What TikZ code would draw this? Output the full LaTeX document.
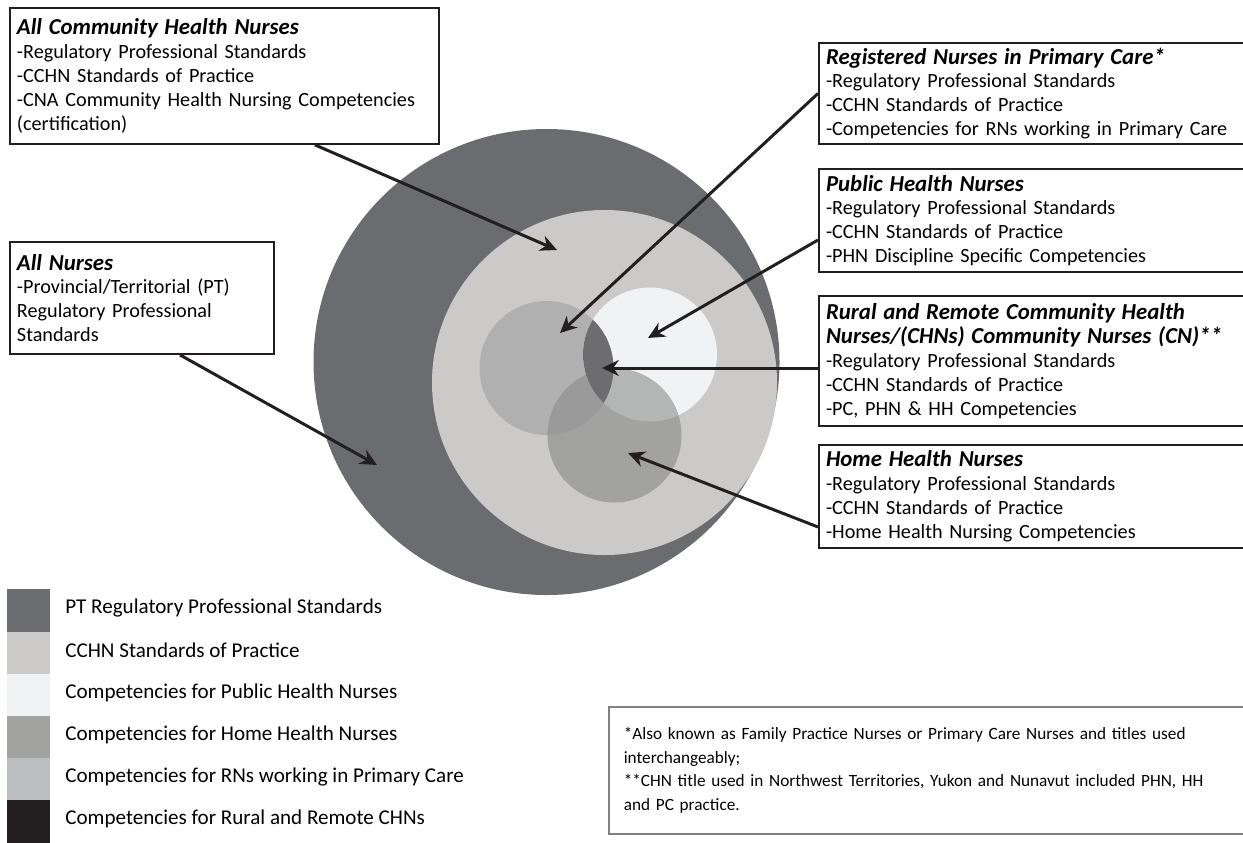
\documentclass[tikz,border=0pt]{standalone}
\usepackage{fontspec}
\setmainfont{Carlito}
\usetikzlibrary{positioning}
\usetikzlibrary{arrows.meta}

\definecolor{inkblack}{HTML}{231F20}
\definecolor{ptgray}{HTML}{6B6C70}
\definecolor{cchngray}{HTML}{CBCAC8}
\definecolor{phnwhite}{HTML}{F1F2F3}
\definecolor{hhgray}{HTML}{A2A2A0}
\definecolor{rngray}{HTML}{B0B0B0}
\definecolor{rnhhgray}{HTML}{9A9A9A}
\definecolor{phnhhgray}{HTML}{B4B6B6}
\definecolor{rnphngray}{HTML}{6D6D6F}
\definecolor{keyrn}{HTML}{BCBDC0}
\definecolor{notegray}{HTML}{808080}

\tikzset{
infobox/.style={draw=inkblack, line width=1.1pt, fill=white, anchor=north west,
	align=left, text width=#1, inner xsep=4pt, inner ysep=2.5pt,
	font=\fontsize{11.5}{13.6}\selectfont},
pointer/.style={draw=inkblack, line width=1.7pt, -{Stealth[length=9.5pt,width=9pt]}},
swatch/.style={fill=#1, anchor=north west, minimum width=0.86cm,
	minimum height=0.845cm, inner sep=0pt},
keytext/.style={anchor=west, inner sep=0pt, font=\fontsize{12}{14}\selectfont},
notebox/.style={draw=notegray, line width=0.9pt, anchor=north west, align=left,
	minimum width=12.9cm, minimum height=2.54cm, text width=12.3cm,
	font=\fontsize{9.8}{13.3}\selectfont},
}
\newcommand{\boxtitle}[1]{{\fontsize{13}{13.6}\selectfont\bfseries\itshape #1}}

\begin{document}
\begin{tikzpicture}[x=0.02cm, y=-0.02cm]
\useasboundingbox[fill=white] (0,0) rectangle (1243,842);

% circles
\coordinate (ptc) at (546.5,362);
\coordinate (cchnc) at (604.5,382.5);
\coordinate (rnc) at (546.5,368);
\coordinate (phnc) at (650,354.5);
\coordinate (hhc) at (614.5,435.5);

\fill[ptgray] (ptc) circle (233);
\fill[cchngray] (cchnc) circle (172.5);
\fill[rngray] (rnc) circle (67);
\fill[phnwhite] (phnc) circle (67);
\fill[hhgray] (hhc) circle (67);
\begin{scope}
\clip (rnc) circle (67);
\fill[rnhhgray] (hhc) circle (67);
\end{scope}
\begin{scope}
\clip (phnc) circle (67);
\fill[phnhhgray] (hhc) circle (67);
\end{scope}
\begin{scope}
\clip (rnc) circle (67);
\fill[rnphngray] (phnc) circle (67);
\end{scope}

\coordinate (chntip) at (557,250);
\coordinate (alltip) at (377,465);
\coordinate (pctip) at (560,333);
\coordinate (phntip) at (648,338);
\coordinate (rrtip) at (602,368);
\coordinate (hhtip) at (628,453);

% boxes
\node[infobox=8.3cm, minimum height=2.72cm] (chnbox) at (9,7) {\boxtitle{All Community Health Nurses}\\
	-Regulatory Professional Standards\\-CCHN Standards of Practice\\
	-CNA Community Health Nursing Competencies\\(certification)};
\node[infobox=5.0cm, minimum height=2.24cm] (allbox) at (9,241) {\boxtitle{All Nurses}\\
	-Provincial/Territorial (PT)\\Regulatory Professional\\Standards};

\node[infobox=8.36cm, minimum height=2.02cm] (pcbox) at (818,42) {\boxtitle{Registered Nurses in Primary Care*}\\
	-Regulatory Professional Standards\\-CCHN Standards of Practice\\
	-Competencies for RNs working in Primary Care};
\node[infobox=8.36cm, minimum height=2.06cm] (phnbox) at (818,168) {\boxtitle{Public Health Nurses}\\
	-Regulatory Professional Standards\\-CCHN Standards of Practice\\
	-PHN Discipline Specific Competencies};
\node[infobox=8.36cm, minimum height=2.6cm] (rrbox) at (818,295) {\boxtitle{Rural and Remote Community Health}\\
	\boxtitle{Nurses/(CHNs) Community Nurses (CN)**}\\
	-Regulatory Professional Standards\\-CCHN Standards of Practice\\
	-PC, PHN \& HH Competencies};
\node[infobox=8.36cm, minimum height=2.06cm] (hhbox) at (818,444) {\boxtitle{Home Health Nurses}\\
	-Regulatory Professional Standards\\-CCHN Standards of Practice\\
	-Home Health Nursing Competencies};

% pointers
\draw[pointer] ([xshift=6.12cm]chnbox.south west) -- (chntip);
\draw[pointer] ([xshift=3.42cm]allbox.south west) -- (alltip);
\draw[pointer] (pcbox.west) -- (pctip);
\draw[pointer] ([yshift=-1.44cm]phnbox.north west) -- (phntip);
\draw[pointer] (rrbox.west |- rrtip) -- (rrtip);
\draw[pointer] ([yshift=-1.66cm]hhbox.north west) -- (hhtip);

% legend
\foreach \col/\txt [count=\i from 0] in {ptgray/PT Regulatory Professional Standards,
	cchngray/CCHN Standards of Practice,
	phnwhite/Competencies for Public Health Nurses,
	hhgray/Competencies for Home Health Nurses,
	keyrn/Competencies for RNs working in Primary Care,
	inkblack/Competencies for Rural and Remote CHNs}{
	\node[swatch=\col] (key\i) at (7,{589+42.2*\i}) {};
	\node[keytext] (keylabel\i) at (65,{608+42.2*\i}) {\txt};
}

% footnotes
\node[notebox] (notes) at (608,706) {*Also known as Family Practice Nurses or Primary Care Nurses and titles used\\
	interchangeably;\\
	{}**CHN title used in Northwest Territories, Yukon and Nunavut included PHN, HH\\
	and PC practice.};
\end{tikzpicture}
\end{document}
